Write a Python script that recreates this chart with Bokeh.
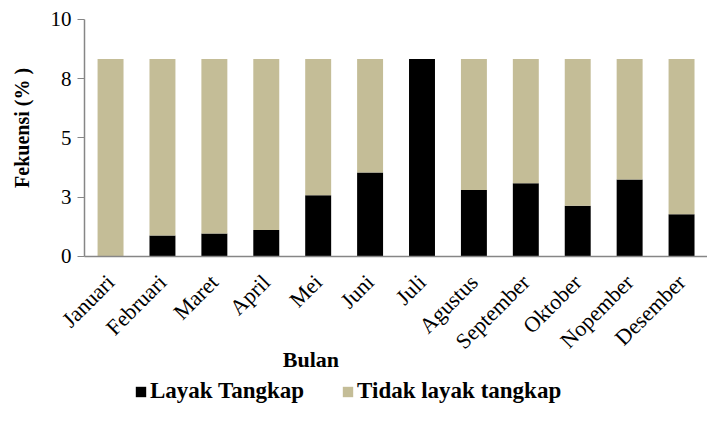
from bokeh.plotting import figure
from bokeh.models import (ColumnDataSource, Range1d, FixedTicker,
                          Legend, LegendItem, Label)
from bokeh.embed import file_html
from bokeh.resources import INLINE
import math

months = ["Januari", "Februari", "Maret", "April", "Mei", "Juni", "Juli",
          "Agustus", "September", "Oktober", "Nopember", "Desember"]
layak = [0.0, 0.88, 0.97, 1.12, 2.58, 3.54, 8.33, 2.80, 3.09, 2.14, 3.25, 1.78]
tidak = [8.33, 7.45, 7.36, 7.21, 5.75, 4.79, 0.0, 5.53, 5.24, 6.19, 5.08, 6.55]
y_ticks = [0, 2.5, 5, 7.5, 10]
y_tick_labels = ["0", "3", "5", "8", "10"]
series_names = ["Layak Tangkap", "Tidak layak tangkap"]
colors = ["#000000", "#C4BD97"]

FONT = "Liberation Serif"

# month slots on a numeric axis: slot i is centred at i + 0.5
xs = [i + 0.5 for i in range(len(months))]
source = ColumnDataSource(dict(x=xs, month=months, layak=layak, tidak=tidak))

# the frame covers the whole figure; axes are pinned at x = 0 / y = 0 so the
# labels, titles and legend are all drawn inside it
p = figure(x_range=Range1d(-1.62, 12.0), y_range=Range1d(-6.29, 10.80),
           frame_width=707, frame_height=405, output_backend="svg",
           toolbar_location=None,
           min_border_left=0, min_border_top=0, min_border_right=0,
           min_border_bottom=0)

rs = p.vbar_stack(["layak", "tidak"], x="x", width=0.5, color=colors,
                  line_color=None, source=source)

p.grid.visible = False
p.outline_line_color = None

# y axis
p.yaxis.fixed_location = 0
p.yaxis.bounds = (0, 10)
p.yaxis.ticker = FixedTicker(ticks=y_ticks)
p.yaxis.major_label_overrides = {t: l for t, l in zip(y_ticks, y_tick_labels)}
p.yaxis.minor_tick_line_color = None
p.yaxis.major_tick_out = 7
p.yaxis.major_tick_in = 0
p.yaxis.major_tick_line_color = "#868686"
p.yaxis.axis_line_color = "#868686"
p.yaxis.axis_line_width = 1.5
p.yaxis.major_label_text_font = FONT
p.yaxis.major_label_text_font_size = "21px"
p.yaxis.major_label_text_color = "#000000"
p.yaxis.major_label_standoff = 6

ylab = Label(x=-1.21, y=5.53, text="Fekuensi  (% )", angle=math.pi / 2,
             text_font=FONT, text_font_style="bold", text_font_size="20px",
             text_align="center", text_baseline="middle", text_color="#000000")
p.add_layout(ylab)

# x axis drawn at y = 0
p.xaxis.fixed_location = 0
p.xaxis.bounds = (0, len(months))
p.xaxis.ticker = FixedTicker(ticks=xs)
p.xaxis.major_label_overrides = {x: m for x, m in zip(xs, months)}
p.xaxis.major_tick_line_color = None
p.xaxis.minor_tick_line_color = None
p.xaxis.axis_line_color = "#868686"
p.xaxis.axis_line_width = 1.5
p.xaxis.major_label_orientation = math.pi / 4
p.xaxis.major_label_text_font = FONT
p.xaxis.major_label_text_font_size = "22px"
p.xaxis.major_label_text_color = "#000000"
p.xaxis.major_label_standoff = 16

bulan = Label(x=4.36, y=-4.35, text="Bulan", text_font=FONT,
              text_font_style="bold", text_font_size="22px",
              text_align="center", text_baseline="middle", text_color="#000000")
p.add_layout(bulan)

legend = Legend(items=[LegendItem(label=series_names[0], renderers=[rs[0]]),
                       LegendItem(label=series_names[1], renderers=[rs[1]])],
                location=(134, 1), orientation="horizontal",
                glyph_width=13, glyph_height=13, label_standoff=3, spacing=37,
                padding=2, margin=0, border_line_color=None,
                background_fill_alpha=0,
                label_text_font=FONT, label_text_font_style="bold",
                label_text_font_size="23px", label_text_color="#000000")
p.add_layout(legend, "center")

open("out.html", "w").write(file_html(p, INLINE))
